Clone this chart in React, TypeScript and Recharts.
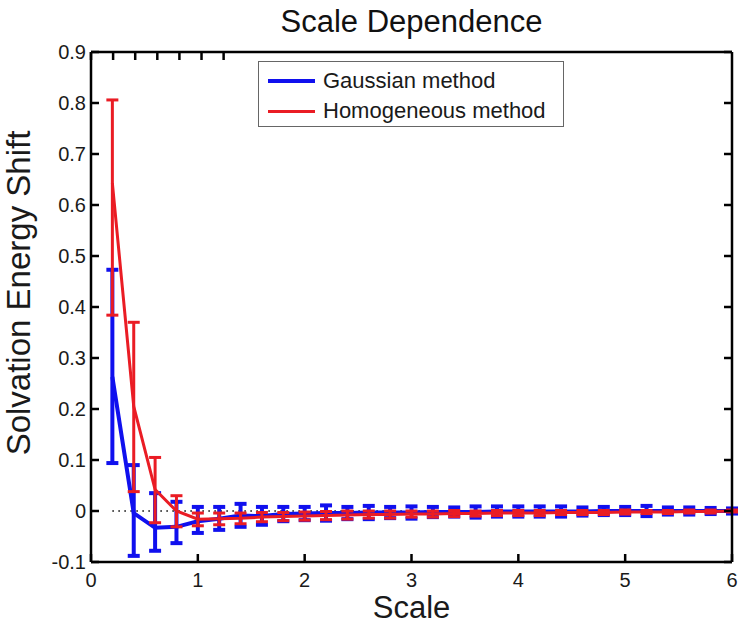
import { ComposedChart, Line, XAxis, YAxis, ErrorBar, ReferenceLine, Label } from 'recharts';

const scales = [0.2, 0.4, 0.6, 0.8, 1.0, 1.2, 1.4, 1.6, 1.8, 2.0, 2.2, 2.4, 2.6, 2.8, 3.0, 3.2, 3.4, 3.6, 3.8, 4.0, 4.2, 4.4, 4.6, 4.8, 5.0, 5.2, 5.4, 5.6, 5.8, 6.0];

const gaussianMean = [0.263, -0.004, -0.033, -0.031, -0.02, -0.015, -0.009, -0.01, -0.006, -0.005, -0.004, -0.004, -0.003, -0.003, -0.003, -0.002, -0.002, -0.002, -0.001, -0.001, -0.001, -0.001, -0.001, 0, 0, 0, 0, 0, 0, 0];
const gaussianLow = [0.094, -0.088, -0.078, -0.063, -0.043, -0.037, -0.031, -0.027, -0.02, -0.018, -0.019, -0.016, -0.016, -0.014, -0.015, -0.012, -0.011, -0.013, -0.011, -0.011, -0.011, -0.011, -0.009, -0.008, -0.008, -0.01, -0.007, -0.007, -0.006, -0.005];
const gaussianHigh = [0.473, 0.09, 0.035, 0.018, 0.008, 0.008, 0.014, 0.008, 0.008, 0.008, 0.011, 0.008, 0.01, 0.008, 0.009, 0.008, 0.007, 0.009, 0.009, 0.009, 0.009, 0.009, 0.007, 0.008, 0.008, 0.01, 0.007, 0.007, 0.006, 0.005];

const homogeneousMean = [0.643, 0.205, 0.042, 0, -0.016, -0.015, -0.014, -0.012, -0.011, -0.01, -0.009, -0.008, -0.007, -0.007, -0.006, -0.006, -0.005, -0.005, -0.004, -0.004, -0.004, -0.003, -0.003, -0.003, -0.002, -0.002, -0.002, -0.001, -0.001, 0];
const homogeneousLow = [0.384, 0.038, -0.023, -0.031, -0.029, -0.027, -0.025, -0.021, -0.019, -0.018, -0.017, -0.016, -0.014, -0.014, -0.012, -0.012, -0.011, -0.01, -0.009, -0.009, -0.009, -0.007, -0.007, -0.007, -0.006, -0.005, -0.005, -0.004, -0.004, -0.002];
const homogeneousHigh = [0.806, 0.37, 0.105, 0.03, -0.004, -0.004, -0.004, -0.003, -0.003, -0.002, -0.001, 0, 0, 0, 0, 0, 0.001, 0, 0.001, 0.001, 0.001, 0.001, 0.001, 0.001, 0.002, 0.001, 0.001, 0.002, 0.002, 0.002];

const xTicks = [0, 1, 2, 3, 4, 5, 6];
const yTicks = [-0.1, 0, 0.1, 0.2, 0.3, 0.4, 0.5, 0.6, 0.7, 0.8, 0.9];

const BLUE = '#1010ee';
const RED = '#ea1c24';
const FONT = '"Liberation Sans", Arial, Helvetica, sans-serif';

const legendItems = [
    { name: 'Gaussian method', color: BLUE, width: 4 },
    { name: 'Homogeneous method', color: RED, width: 3 },
];

const data = scales.map((s, i) => ({
    scale: s,
    gaussian: gaussianMean[i],
    gaussianErr: [gaussianMean[i] - gaussianLow[i], gaussianHigh[i] - gaussianMean[i]],
    homogeneous: homogeneousMean[i],
    homogeneousErr: [homogeneousMean[i] - homogeneousLow[i], homogeneousHigh[i] - homogeneousMean[i]],
}));

const tickStyle = { fontSize: 20, fill: '#1a1a1a', fontFamily: FONT };
const axisLine = { stroke: '#000', strokeWidth: 2.5 };
const tickLine = { stroke: '#000', strokeWidth: 2.5 };

const YLabel = (props: any) => {
    const { viewBox } = props;
    const cx = viewBox.x + 18;
    const cy = viewBox.y + viewBox.height / 2 - 14;
    return (
        <text
            x={cx}
            y={cy}
            transform={`rotate(-90, ${cx}, ${cy})`}
            textAnchor="middle"
            dy="0.355em"
            fontSize={33}
            fontFamily={FONT}
            fill="#1a1a1a"
        >
            Solvation Energy Shift
        </text>
    );
};

export default function App() {
    return (
        <div style={{ position: 'absolute', left: 0, top: 0, width: 750, height: 630, background: '#fff', fontFamily: FONT }}>
            <ComposedChart width={750} height={630} data={data} margin={{ top: 32, right: 0, bottom: 12, left: 0 }}>
                <XAxis
                    dataKey="scale"
                    type="number"
                    domain={[0, 6]}
                    ticks={xTicks}
                    interval={0}
                    allowDataOverflow
                    height={56}
                    tickSize={-8}
                    tickMargin={19}
                    tick={tickStyle}
                    axisLine={axisLine}
                    tickLine={tickLine}
                >
                    <Label value="Scale" position="insideBottom" offset={0} style={{ fontSize: 31, fill: '#1a1a1a', fontFamily: FONT }} />
                </XAxis>
                <XAxis
                    xAxisId="top"
                    orientation="top"
                    type="number"
                    domain={[0, 6]}
                    ticks={xTicks}
                    interval={0}
                    allowDataOverflow
                    height={20}
                    tickSize={-8}
                    tick={() => <g />}
                    axisLine={axisLine}
                    tickLine={tickLine}
                >
                    <Label value="Scale Dependence" position="top" offset={0} style={{ fontSize: 31, fill: '#111', fontFamily: FONT }} />
                </XAxis>
                <YAxis
                    type="number"
                    domain={[-0.1, 0.9]}
                    ticks={yTicks}
                    interval={0}
                    allowDataOverflow
                    width={91}
                    tickSize={-8}
                    tickMargin={13}
                    tick={tickStyle}
                    axisLine={axisLine}
                    tickLine={tickLine}
                >
                    <Label content={YLabel} />
                </YAxis>
                <YAxis
                    yAxisId="right"
                    orientation="right"
                    type="number"
                    domain={[-0.1, 0.9]}
                    ticks={yTicks}
                    interval={0}
                    allowDataOverflow
                    width={18}
                    tickSize={-8}
                    tick={() => <g />}
                    axisLine={axisLine}
                    tickLine={tickLine}
                />
                <ReferenceLine
                    segment={[{ x: scales[0], y: 0 }, { x: scales[scales.length - 1], y: 0 }]}
                    stroke="#000"
                    strokeWidth={1.5}
                    strokeDasharray="1.5 4.5"
                />
                <Line
                    dataKey="gaussian"
                    stroke={BLUE}
                    strokeWidth={4}
                    dot={false}
                    activeDot={false}
                    isAnimationActive={false}
                >
                    <ErrorBar dataKey="gaussianErr" width={6} stroke={BLUE} strokeWidth={4} isAnimationActive={false} />
                </Line>
                <Line
                    dataKey="homogeneous"
                    stroke={RED}
                    strokeWidth={3}
                    dot={false}
                    activeDot={false}
                    isAnimationActive={false}
                >
                    <ErrorBar dataKey="homogeneousErr" width={6} stroke={RED} strokeWidth={3} isAnimationActive={false} />
                </Line>
            </ComposedChart>
            <div
                style={{
                    position: 'absolute',
                    left: 258,
                    top: 61,
                    width: 306,
                    height: 66,
                    boxSizing: 'border-box',
                    border: '1px solid #666',
                    background: '#fff',
                }}
            >
                {legendItems.map((item, i) => (
                    <div
                        key={item.name}
                        style={{ position: 'absolute', left: 9, top: 6 + i * 30, height: 26, display: 'flex', alignItems: 'center' }}
                    >
                        <div style={{ width: 47, height: item.width, background: item.color, marginRight: 8 }} />
                        <span style={{ fontSize: 22, color: '#1a1a1a', lineHeight: '26px', whiteSpace: 'nowrap' }}>{item.name}</span>
                    </div>
                ))}
            </div>
        </div>
    );
}
